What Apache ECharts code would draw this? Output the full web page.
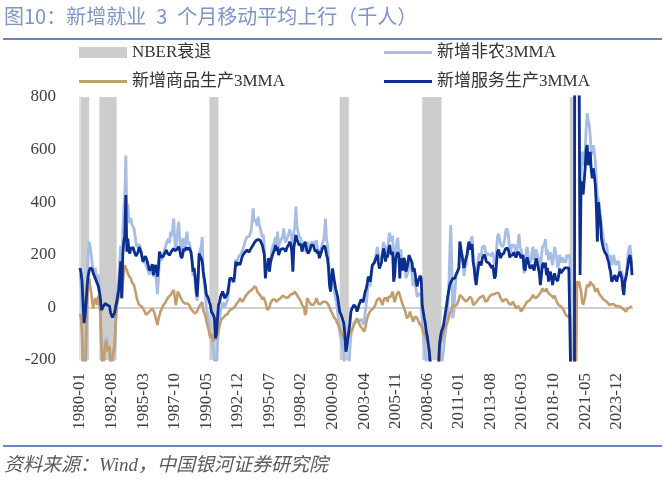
<!DOCTYPE html>
<html>
<head>
<meta charset="utf-8">
<script src="https://cdn.jsdelivr.net/npm/echarts@6/dist/echarts.min.js"></script>
<style>
  html, body { margin: 0; padding: 0; background: #fff; }
  #chart { width: 665px; height: 490px; }
</style>
</head>
<body>
<div id="chart"></div>
<script>
// 月份 1980-01 ~ 2025-03
var months = [];
for (var y = 1980; y <= 2025; y++) {
    for (var m = 1; m <= 12; m++) {
        if (y === 2025 && m > 3) break;
        months.push(y + '-' + (m < 10 ? '0' + m : m));
    }
}

// NBER衰退区间（起止月份）
var recessions = [
    ['1980-03', '1980-09'],
    ['1981-09', '1982-12'],
    ['1990-09', '1991-04'],
    ['2001-05', '2001-12'],
    ['2008-02', '2009-07'],
    ['2020-03', '2020-04']
];
var recessionTop = 800;
var recessionBottom = -200;

// 新增非农3MMA（千人）
var nfp = [
    125, 90, -10, -220, -390, -330, -100, 100, 202, 250, 230, 200,
    165, 126, 140, 150, 120, 105, 125, 80, 5, -150, -225, -225,
    -158, -125, -113, -160, -160, -145, -235, -235, -223, -222, -163, -57,
    20, 67, 105, 180, 235, 70, 290, 380, 421, 577, 354, 392,
    335, 320, 340, 315, 320, 300, 275, 245, 230, 230, 240, 230,
    215, 190, 170, 170, 175, 158, 150, 140, 124, 124, 142, 160,
    119, 120, 126, 100, 50, 105, 182, 184, 180, 187, 204, 220,
    230, 246, 240, 262, 244, 288, 270, 300, 338, 255, 221, 250,
    300, 326, 260, 230, 217, 262, 249, 230, 237, 288, 240, 250,
    236, 205, 170, 120, 130, 97, 50, 26, 106, 205, 205, 230,
    268, 126, 90, 55, 0, -22, -45, -80, -108, -116, -126, -160,
    -161, -242, -217, -140, -83, -50, -14, 0, 19, 12, 0, 11,
    18, 30, 64, 100, 107, 104, 101, 94, 132, 183, 175, 185,
    195, 196, 203, 212, 221, 235, 250, 252, 268, 270, 270, 272,
    290, 330, 377, 325, 335, 338, 310, 345, 312, 302, 285, 267,
    277, 230, 132, 155, 150, 171, 136, 185, 207, 229, 240, 250,
    267, 237, 288, 229, 245, 255, 255, 269, 300, 260, 247, 260,
    265, 280, 297, 290, 265, 186, 285, 310, 383, 307, 290, 272,
    267, 262, 222, 240, 240, 221, 210, 250, 235, 221, 235, 247,
    245, 247, 234, 232, 255, 230, 230, 196, 212, 225, 244, 252,
    280, 338, 260, 240, 190, 110, 60, 110, 130, 90, 55, 30,
    18, -20, -60, -96, -115, -135, -151, -177, -225, -303, -293, -237,
    -227, -160, -108, -90, -75, -58, -55, -50, -57, -55, -50, -50,
    -45, -45, -65, -52, -20, 10, 49, 87, 90, 82, 120, 157,
    157, 170, 190, 209, 230, 205, 183, 190, 190, 209, 249, 245,
    204, 235, 212, 260, 284, 250, 250, 272, 133, 140, 222, 249,
    265, 259, 155, 222, 180, 149, 192, 165, 111, 109, 135, 169,
    183, 150, 130, 82, 105, 95, 69, 40, 50, 50, 53, 40,
    -70, -108, -140, -170, -209, -240, -285, -330, -420, -530, -670, -750,
    -780, -750, -680, -580, -480, -340, -253, -215, -190, -159, -120, -87,
    -60, -20, 60, 200, 313, 180, -41, -20, 50, 110, 130, 130,
    150, 250, 230, 230, 170, 120, 150, 160, 190, 220, 250, 230,
    260, 270, 200, 160, 120, 100, 145, 180, 205, 200, 195, 230,
    230, 235, 215, 195, 205, 205, 200, 200, 195, 210, 195, 160,
    170, 220, 270, 280, 260, 240, 240, 230, 240, 260, 290, 300,
    290, 260, 200, 210, 240, 230, 240, 230, 190, 220, 240, 280,
    230, 220, 200, 190, 130, 140, 210, 230, 200, 180, 170, 180,
    220, 230, 180, 190, 220, 200, 190, 180, 140, 190, 230, 230,
    240, 260, 200, 220, 180, 200, 210, 180, 160, 190, 230, 210,
    190, 150, 160, 200, 170, 180, 190, 170, 180, 170, 200, 190,
    190, 200, -400, -7000, -6000, -4000, 3000, 2500, 1500, 1200, 1000, 250,
    500, 592, 541, 560, 592, 680, 738, 710, 693, 650, 579, 600,
    617, 590, 554, 480, 427, 420, 390, 350, 313, 288, 260, 240,
    237, 240, 210, 187, 199, 190, 161, 187, 199, 175, 161, 174,
    170, 174, 136, 140, 136, 110, 85, 100, 110, 150, 200, 224,
    237, 200, 136
];

// 新增商品生产3MMA（千人）
var goods = [
    -25, -40, -110, -240, -330, -300, -120, 20, 85, 110, 80, 55,
    20, -4, 20, 35, 20, 10, 45, 20, -30, -140, -210, -230,
    -170, -140, -125, -168, -170, -150, -215, -205, -185, -180, -143, -60,
    0, 22, 40, 60, 60, 35, 90, 130, 161, 150, 142, 130,
    120, 115, 110, 95, 90, 85, 70, 50, 30, 20, 10, 10,
    5, 0, -4, -10, -20, -29, -25, -20, -16, -12, -8, -5,
    -4, -20, -35, -50, -67, -45, -30, -16, -10, 0, 9, 15,
    20, 28, 35, 40, 45, 47, 55, 60, 66, 40, 9, 30,
    60, 60, 45, 35, 30, 22, 25, 15, 9, 15, 20, 10,
    5, -5, -10, -16, -20, -23, -20, -15, -4, 0, 10, 15,
    20, -10, -20, -30, -50, -67, -80, -100, -117, -100, -110, -130,
    -120, -125, -117, -100, -92, -70, -54, -45, -41, -38, -35, -29,
    -29, -25, -16, -10, -8, -6, -4, -4, 2, 9, 15, 20,
    25, 35, 28, 22, 22, 30, 40, 47, 50, 55, 60, 60,
    65, 70, 72, 80, 85, 75, 60, 55, 50, 47, 40, 30,
    40, 30, 22, 5, -10, -16, 0, 15, 22, 30, 35, 30,
    30, 22, 25, 30, 35, 35, 40, 45, 47, 40, 35, 35,
    35, 40, 47, 50, 55, 50, 55, 60, 55, 47, 40, 35,
    30, 22, 10, 10, 0, -29, -20, 35, 30, 22, 15, 10,
    15, 10, 9, 20, 35, 25, 15, 9, 12, 15, 20, 22,
    22, 25, 20, 15, 9, 0, -10, -16, -25, -35, -41, -45,
    -54, -60, -70, -80, -90, -100, -110, -117, -125, -135, -143, -120,
    -110, -100, -92, -85, -75, -67, -60, -50, -41, -50, -60, -70,
    -75, -80, -85, -92, -80, -60, -41, -30, -20, -16, -10, -4,
    -4, 0, 10, 22, 30, 35, 35, 30, 20, 9, 25, 35,
    30, 35, 22, 40, 47, 40, 50, 60, 35, 20, 35, 50,
    55, 60, 45, 35, 20, 9, 5, -10, -25, -41, -35, -30,
    -16, -30, -40, -54, -45, -35, -29, -40, -50, -60, -67, -70,
    -80, -92, -100, -110, -117, -130, -145, -160, -190, -230, -290, -330,
    -360, -370, -350, -300, -260, -200, -143, -125, -110, -92, -80, -72,
    -67, -55, -41, -25, -16, -5, 9, 15, 5, 0, 10, 15,
    30, 47, 45, 40, 35, 30, 25, 22, 25, 30, 35, 40,
    40, 30, 9, 10, 15, 22, 25, 30, 35, 30, 40, 47,
    45, 35, 22, 20, 25, 35, 40, 45, 47, 50, 55, 50,
    50, 55, 60, 55, 45, 35, 30, 22, 25, 30, 35, 30,
    25, 15, 9, 10, 15, 22, 15, 5, -4, 0, 5, 10,
    -4, -16, -10, -5, 0, 9, 15, 22, 20, 25, 30, 35,
    40, 47, 45, 35, 35, 40, 45, 50, 54, 60, 72, 65,
    60, 65, 72, 60, 54, 50, 47, 45, 40, 35, 45, 40,
    22, 15, 9, 9, 5, 0, -4, -10, -20, -29, -25, -35,
    -40, -30, -50, -800, -700, -500, -400, -300, 100, 85, 98, 98,
    60, 22, 10, 3, 40, 70, 85, 90, 80, 98, 90, 85,
    85, 75, 60, 65, 72, 60, 50, 47, 40, 35, 30, 28,
    25, 22, 18, 12, 9, 9, 12, 15, 12, 9, 5, 9,
    5, 3, 3, 0, -2, -4, -8, -12, -16, -10, -4, -2,
    0, 3, 5
];

// 新增服务生产3MMA（千人）
var services = [
    150, 130, 100, 20, -60, -30, 20, 80, 117, 140, 150, 145,
    145, 130, 120, 115, 100, 95, 80, 60, 35, -10, -15, 5,
    12, 15, 12, 8, 10, 5, -20, -30, -38, -42, -20, 3,
    20, 45, 65, 120, 175, 35, 200, 250, 270, 427, 212, 262,
    215, 205, 230, 220, 230, 215, 205, 195, 200, 210, 230, 220,
    210, 190, 174, 180, 195, 187, 175, 160, 140, 136, 150, 165,
    123, 140, 161, 150, 117, 150, 212, 200, 190, 187, 195, 205,
    210, 218, 205, 210, 199, 205, 215, 220, 224, 215, 212, 220,
    225, 231, 215, 195, 187, 205, 224, 215, 228, 231, 220, 228,
    231, 210, 180, 136, 150, 120, 70, 41, 110, 205, 195, 187,
    175, 136, 110, 85, 50, 45, 35, 20, 9, -16, -16, -30,
    -41, -117, -100, -40, 9, 20, 40, 45, 60, 50, 35, 40,
    47, 55, 80, 110, 115, 110, 105, 98, 130, 174, 160, 165,
    170, 161, 175, 190, 199, 205, 210, 205, 218, 215, 210, 212,
    225, 230, 237, 245, 250, 255, 250, 258, 262, 255, 245, 237,
    237, 200, 110, 150, 160, 187, 136, 170, 185, 199, 205, 220,
    237, 215, 230, 199, 210, 220, 215, 224, 230, 220, 212, 225,
    230, 240, 250, 240, 210, 136, 230, 250, 275, 260, 250, 237,
    237, 240, 212, 230, 240, 250, 230, 215, 205, 199, 220, 237,
    230, 237, 225, 212, 220, 205, 215, 187, 200, 210, 224, 230,
    235, 224, 200, 187, 150, 85, 60, 110, 148, 120, 95, 72,
    72, 40, 10, -16, -25, -35, -41, -60, -100, -168, -150, -117,
    -117, -60, -16, -5, 0, 9, 5, 0, -16, -5, 10, 20,
    30, 35, 20, 40, 60, 70, 90, 117, 110, 98, 130, 161,
    161, 170, 180, 187, 200, 170, 148, 160, 170, 200, 224, 210,
    174, 200, 190, 220, 237, 210, 200, 212, 98, 120, 187, 199,
    210, 199, 110, 187, 160, 140, 187, 175, 136, 150, 170, 199,
    199, 180, 170, 136, 150, 130, 98, 80, 100, 110, 120, 110,
    10, -16, -40, -60, -92, -110, -140, -170, -230, -300, -380, -420,
    -420, -380, -330, -280, -220, -140, -110, -90, -80, -67, -40, -15,
    9, 40, 60, 85, 95, 100, 110, 115, 110, 123, 130, 140,
    150, 250, 220, 200, 174, 150, 170, 187, 200, 230, 250, 220,
    230, 240, 174, 150, 110, 85, 120, 150, 174, 170, 160, 187,
    187, 200, 190, 174, 180, 170, 165, 160, 150, 161, 140, 110,
    120, 170, 212, 220, 205, 187, 200, 199, 205, 215, 224, 230,
    224, 212, 190, 199, 205, 199, 210, 212, 190, 200, 212, 215,
    200, 187, 190, 199, 150, 140, 174, 190, 185, 160, 148, 150,
    161, 150, 140, 170, 187, 170, 150, 130, 85, 120, 161, 170,
    150, 170, 123, 150, 98, 120, 136, 110, 85, 110, 130, 110,
    110, 100, 120, 148, 130, 136, 140, 136, 150, 155, 150, 155,
    150, 155, -300, -6000, -5000, -3500, 2600, 2300, 1400, 1100, 900, 123,
    480, 440, 430, 427, 529, 600, 617, 541, 560, 592, 520, 491,
    529, 500, 465, 380, 250, 400, 360, 330, 262, 240, 224, 212,
    212, 199, 185, 174, 150, 136, 98, 105, 110, 123, 115, 98,
    115, 123, 136, 125, 110, 70, 47, 98, 115, 136, 160, 187,
    199, 180, 123
];

function inRecession(month) {
    for (var k = 0; k < recessions.length; k++) {
        if (month >= recessions[k][0] && month <= recessions[k][1]) return true;
    }
    return false;
}
// 衰退柱：上半段到800，下半段到-200
var nberUp = months.map(function (mo) { return inRecession(mo) ? recessionTop : '-'; });
var nberDown = months.map(function (mo) { return inRecession(mo) ? recessionBottom : '-'; });

var serifFont = "'Liberation Serif', 'Noto Sans CJK SC', serif";
var greyBar = '#cdcdcd';

var myChart = echarts.init(document.getElementById('chart'));

var legendBase = {
    orient: 'horizontal',
    padding: 0,
    itemGap: 5,
    itemWidth: 48,
    textStyle: { fontFamily: serifFont, fontSize: 17, color: '#333' }
};

var option = {
    animation: false,
    backgroundColor: '#fff',
    graphic: [
        {
            type: 'text', left: 4, top: 6,
            style: {
                text: '图10：新增就业\u20023\u2002个月移动平均上行（千人）',
                fontFamily: "'Noto Sans CJK SC', sans-serif",
                fontSize: 20,
                fill: '#7f95c7'
            }
        },
        {
            type: 'line', shape: { x1: 3, y1: 39, x2: 662, y2: 39 },
            style: { stroke: '#6b84bd', lineWidth: 2 }
        },
        {
            type: 'line', shape: { x1: 3, y1: 446, x2: 662, y2: 446 },
            style: { stroke: '#6b84bd', lineWidth: 2 }
        },
        {
            type: 'text', left: 4, top: 456,
            style: { text: '资料来源：Wind，中国银河证券研究院', fontFamily: serifFont, fontSize: 19, fontStyle: 'italic', fill: '#5b5b5b' }
        }
    ],
    legend: [
        Object.assign({}, legendBase, { left: 79, top: 44, itemHeight: 11, data: [{ name: 'NBER衰退', icon: 'rect' }] }),
        Object.assign({}, legendBase, { left: 384, top: 44, itemHeight: 3, data: [{ name: '新增非农3MMA', icon: 'rect' }] }),
        Object.assign({}, legendBase, { left: 79, top: 73, itemHeight: 3, data: [{ name: '新增商品生产3MMA', icon: 'rect' }] }),
        Object.assign({}, legendBase, { left: 384, top: 73, itemHeight: 3, data: [{ name: '新增服务生产3MMA', icon: 'rect' }] })
    ],
    grid: { left: 80, right: 33, top: 97, bottom: 130, containLabel: false },
    xAxis: {
        type: 'category',
        data: months,
        boundaryGap: false,
        axisLine: { lineStyle: { color: '#d0d0d0', width: 2 } },
        axisTick: { show: false },
        axisLabel: {
            interval: 30,
            rotate: 90,
            margin: 13,
            fontFamily: serifFont,
            fontSize: 17,
            color: '#404040'
        },
        splitLine: { show: false }
    },
    yAxis: {
        type: 'value',
        min: -200,
        max: 800,
        interval: 200,
        axisLine: { show: true, lineStyle: { color: '#d9d9d9', width: 1.5 } },
        axisTick: { show: false },
        axisLabel: { margin: 24, fontFamily: serifFont, fontSize: 17, color: '#404040' },
        splitLine: {
            show: true,
            lineStyle: {
                color: ['rgba(0,0,0,0)', '#d0d0d0', 'rgba(0,0,0,0)', 'rgba(0,0,0,0)', 'rgba(0,0,0,0)', 'rgba(0,0,0,0)'],
                width: 2
            }
        }
    },
    series: [
        {
            name: 'NBER衰退',
            type: 'bar',
            stack: 'nber',
            data: nberUp,
            z: 1,
            barWidth: 2,
            silent: true,
            itemStyle: { color: greyBar }
        },
        {
            name: 'NBER衰退下',
            type: 'bar',
            stack: 'nber',
            data: nberDown,
            z: 1,
            barWidth: 2,
            silent: true,
            itemStyle: { color: greyBar }
        },
        {
            name: '新增非农3MMA',
            type: 'line',
            data: nfp,
            z: 2,
            showSymbol: false,
            color: '#a6bde6',
            lineStyle: { color: '#a6bde6', width: 2.8 }
        },
        {
            name: '新增商品生产3MMA',
            type: 'line',
            data: goods,
            z: 3,
            showSymbol: false,
            color: '#c39d6e',
            lineStyle: { color: '#c39d6e', width: 2.6 }
        },
        {
            name: '新增服务生产3MMA',
            type: 'line',
            data: services,
            z: 4,
            showSymbol: false,
            color: '#0c2f8f',
            lineStyle: { color: '#0c2f8f', width: 2.8 }
        }
    ]
};

myChart.setOption(option);
</script>
</body>
</html>
